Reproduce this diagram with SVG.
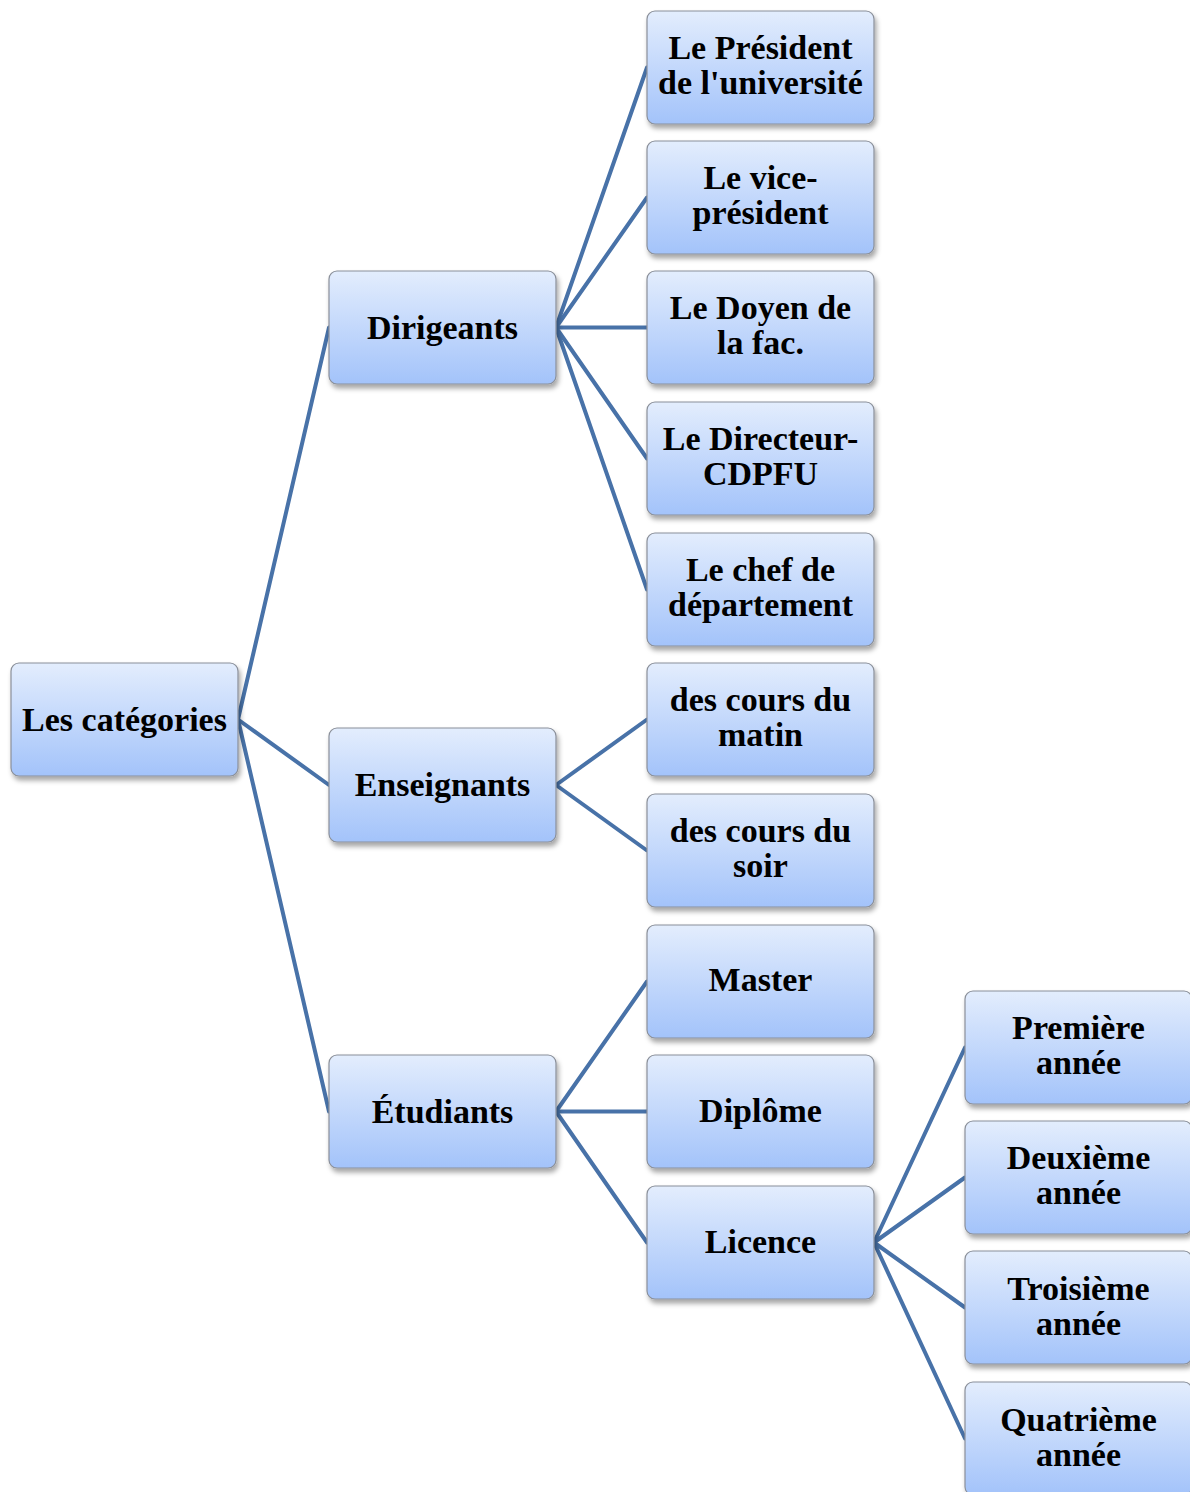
<svg xmlns="http://www.w3.org/2000/svg" width="1190" height="1492" viewBox="0 0 1190 1492">
<defs>
<linearGradient id="g" x1="0" y1="0" x2="0" y2="1">
<stop offset="0" stop-color="#e3edfd"/>
<stop offset="1" stop-color="#a3c3fa"/>
</linearGradient>
<filter id="sh" x="-10%" y="-10%" width="125%" height="130%">
<feDropShadow dx="2" dy="4" stdDeviation="2.5" flood-color="#000" flood-opacity="0.35"/>
</filter>
</defs>
<style>
.box{fill:url(#g);stroke:#8a8f99;stroke-width:1.2;filter:url(#sh)}
.t{font-family:"Liberation Serif","Times New Roman",serif;font-weight:bold;font-size:34px;fill:#000;text-anchor:middle}
.c line{stroke:#4872a8;stroke-width:4;stroke-linecap:round}
</style>
<rect width="1190" height="1492" fill="#fff"/>
<g class="c" id="connectors">
<line x1="238" y1="719.5" x2="329" y2="327.5"/>
<line x1="238" y1="719.5" x2="329" y2="785"/>
<line x1="238" y1="719.5" x2="329" y2="1111.5"/>
<line x1="556" y1="327.5" x2="647" y2="67.5"/>
<line x1="556" y1="327.5" x2="647" y2="197.5"/>
<line x1="556" y1="327.5" x2="647" y2="327.5"/>
<line x1="556" y1="327.5" x2="647" y2="458.5"/>
<line x1="556" y1="327.5" x2="647" y2="589.5"/>
<line x1="556" y1="785" x2="647" y2="719.5"/>
<line x1="556" y1="785" x2="647" y2="850.5"/>
<line x1="556" y1="1111.5" x2="647" y2="981.5"/>
<line x1="556" y1="1111.5" x2="647" y2="1111.5"/>
<line x1="556" y1="1111.5" x2="647" y2="1242.5"/>
<line x1="874" y1="1242.5" x2="965" y2="1047.5"/>
<line x1="874" y1="1242.5" x2="965" y2="1177.5"/>
<line x1="874" y1="1242.5" x2="965" y2="1307.5"/>
<line x1="874" y1="1242.5" x2="965" y2="1438.5"/>
</g>
<g id="root"><rect class="box" x="11" y="663" width="227" height="113" rx="8"/><text class="t" x="124.5" y="731">Les catégories</text></g>
<g id="dirigeants"><rect class="box" x="329" y="271" width="227" height="113" rx="8"/><text class="t" x="442.5" y="339">Dirigeants</text></g>
<g id="enseignants"><rect class="box" x="329" y="728" width="227" height="114" rx="8"/><text class="t" x="442.5" y="796">Enseignants</text></g>
<g id="etudiants"><rect class="box" x="329" y="1055" width="227" height="113" rx="8"/><text class="t" x="442.5" y="1123">Étudiants</text></g>
<g id="president"><rect class="box" x="647" y="11" width="227" height="113" rx="8"/><text class="t" x="760.5" y="59">Le Président</text><text class="t" x="760.5" y="94">de l'université</text></g>
<g id="vice"><rect class="box" x="647" y="141" width="227" height="113" rx="8"/><text class="t" x="760.5" y="189">Le vice-</text><text class="t" x="760.5" y="224">président</text></g>
<g id="doyen"><rect class="box" x="647" y="271" width="227" height="113" rx="8"/><text class="t" x="760.5" y="319">Le Doyen de</text><text class="t" x="760.5" y="354">la fac.</text></g>
<g id="directeur"><rect class="box" x="647" y="402" width="227" height="113" rx="8"/><text class="t" x="760.5" y="450">Le Directeur-</text><text class="t" x="760.5" y="485">CDPFU</text></g>
<g id="chef"><rect class="box" x="647" y="533" width="227" height="113" rx="8"/><text class="t" x="760.5" y="581">Le chef de</text><text class="t" x="760.5" y="616">département</text></g>
<g id="matin"><rect class="box" x="647" y="663" width="227" height="113" rx="8"/><text class="t" x="760.5" y="711">des cours du</text><text class="t" x="760.5" y="746">matin</text></g>
<g id="soir"><rect class="box" x="647" y="794" width="227" height="113" rx="8"/><text class="t" x="760.5" y="842">des cours du</text><text class="t" x="760.5" y="877">soir</text></g>
<g id="master"><rect class="box" x="647" y="925" width="227" height="113" rx="8"/><text class="t" x="760.5" y="991">Master</text></g>
<g id="diplome"><rect class="box" x="647" y="1055" width="227" height="113" rx="8"/><text class="t" x="760.5" y="1122">Diplôme</text></g>
<g id="licence"><rect class="box" x="647" y="1186" width="227" height="113" rx="8"/><text class="t" x="760.5" y="1253">Licence</text></g>
<g id="premiere"><rect class="box" x="965" y="991" width="227" height="113" rx="8"/><text class="t" x="1078.5" y="1039">Première</text><text class="t" x="1078.5" y="1074">année</text></g>
<g id="deuxieme"><rect class="box" x="965" y="1121" width="227" height="113" rx="8"/><text class="t" x="1078.5" y="1169">Deuxième</text><text class="t" x="1078.5" y="1204">année</text></g>
<g id="troisieme"><rect class="box" x="965" y="1251" width="227" height="113" rx="8"/><text class="t" x="1078.5" y="1300">Troisième</text><text class="t" x="1078.5" y="1335">année</text></g>
<g id="quatrieme"><rect class="box" x="965" y="1382" width="227" height="113" rx="8"/><text class="t" x="1078.5" y="1431">Quatrième</text><text class="t" x="1078.5" y="1466">année</text></g>
</svg>
